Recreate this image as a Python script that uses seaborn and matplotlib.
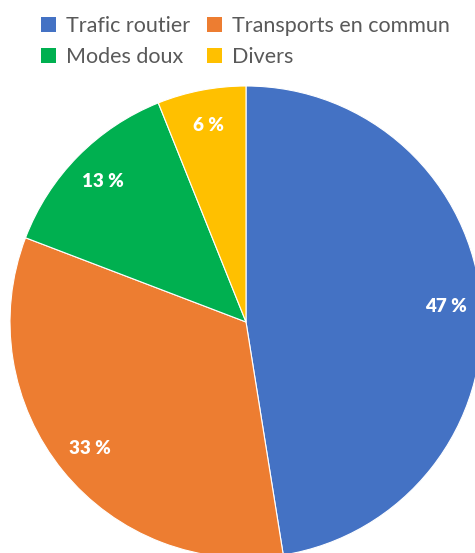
import matplotlib
matplotlib.use("Agg")
import matplotlib.pyplot as plt
from matplotlib.patches import Patch
import seaborn as sns

sns.set_theme(style="white")
plt.rcParams['font.family'] = ['Lato', 'DejaVu Sans']

# données
categories = ['Trafic routier', 'Transports en commun', 'Modes doux', 'Divers']
values = [47, 33, 13, 6]
pct_labels = ['47 %', '33 %', '13 %', '6 %']
colors = ['#4472C4', '#ED7D31', '#00B050', '#FFC000']

fig = plt.figure(figsize=(4.75, 5.53), dpi=100)
# axe placé pour que le camembert déborde un peu à droite et en bas
ax = fig.add_axes([10 / 475, -5 / 553, 472 / 475, 472 / 553])

wedges, texts = ax.pie(values, labels=pct_labels, colors=colors, startangle=90,
                       counterclock=False, labeldistance=0.85,
                       wedgeprops=dict(edgecolor='white', linewidth=0.8),
                       textprops=dict(color='white', fontweight='heavy', fontsize=13.5))
for t in texts:
    t.set_ha('center')
    t.set_va('center')
ax.set_xlim(-1, 1)
ax.set_ylim(-1, 1)
ax.set_aspect('equal')
ax.axis('off')

# légende en lignes (matplotlib remplit par colonnes)
order = [0, 2, 1, 3]
handles = [Patch(facecolor=colors[i], edgecolor='none') for i in order]
fig.legend(handles, [categories[i] for i in order], loc='upper left',
           bbox_to_anchor=(25 / 475, 1.0),
           ncol=2, frameon=False, fontsize=15.5, labelcolor='#595959',
           handlelength=0.7, handleheight=0.7, handletextpad=0.45,
           columnspacing=0.8, labelspacing=0.5, borderaxespad=0.35)

fig.savefig('out.png', dpi=100)
